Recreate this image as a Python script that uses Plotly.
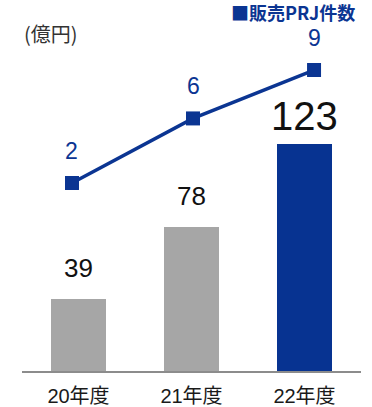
import plotly.graph_objects as go

categories = ["20年度", "21年度", "22年度"]
sales = [39, 78, 123]
prj_counts = [2, 6, 9]
bar_colors = ["#A6A6A6", "#A6A6A6", "#073391"]
line_color = "#0B3592"

fig = go.Figure()

fig.add_trace(go.Bar(
    x=categories, y=sales, marker_color=bar_colors, width=0.478,
    marker_line_width=0, xaxis="x", yaxis="y", showlegend=False,
    hoverinfo="skip",
))

fig.add_trace(go.Scatter(
    x=[0, 1, 2], y=prj_counts, mode="lines+markers",
    line=dict(color=line_color, width=3.5),
    marker=dict(symbol="square", size=14, color=line_color),
    xaxis="x2", yaxis="y2", showlegend=False, cliponaxis=False,
    hoverinfo="skip",
))

annotations = []
num_font = "Liberation Sans, Arial, sans-serif"
for i, (c, v) in enumerate(zip(categories, sales)):
    big = (i == len(sales) - 1)
    annotations.append(dict(
        x=c, y=v, xref="x", yref="y", text=str(v), showarrow=False,
        yanchor="middle", yshift=28 if big else 31,
        font=dict(family=num_font, size=40 if big else 26, color="#111111"),
    ))
for i, v in enumerate(prj_counts):
    annotations.append(dict(
        x=i, y=v, xref="x2", yref="y2", text=str(v), showarrow=False,
        yanchor="middle", yshift=32, borderpad=0,
        font=dict(family=num_font, size=23, color=line_color),
    ))

annotations.append(dict(
    x=0.985, y=1.0831, xref="paper", yref="paper", xanchor="right", yanchor="middle",
    text="<b>■販売PRJ件数</b>", showarrow=False, borderpad=0,
    font=dict(family="Noto Sans CJK JP", size=18, color=line_color),
))
annotations.append(dict(
    x=0.0, y=1.02, xref="paper", yref="paper", xanchor="left", yanchor="middle",
    text="(億円)", showarrow=False,
    font=dict(family="Noto Sans CJK JP", size=20, color="#333333"),
))

fig.update_layout(
    width=372, height=407,
    margin=dict(l=22, r=11, t=40, b=36),
    paper_bgcolor="white", plot_bgcolor="white",
    annotations=annotations,
    xaxis=dict(
        type="category", range=[-0.5, 2.5], showline=True, linecolor="#8C8C8C",
        linewidth=2, showgrid=False, zeroline=False, ticks="", automargin=False,
        tickfont=dict(family="Liberation Sans, Noto Sans CJK JP", size=20, color="#1a1a1a"),
        ticklabelstandoff=6,
    ),
    xaxis2=dict(
        overlaying="x", range=[-0.413, 2.388], visible=False, showgrid=False,
    ),
    yaxis=dict(range=[0, 179.3], visible=False, showgrid=False, zeroline=False,
               automargin=False),
    yaxis2=dict(range=[-9.65, 10.86], overlaying="y", visible=False,
                showgrid=False, zeroline=False, automargin=False),
    bargap=0,
)

fig.write_html("out.html")
